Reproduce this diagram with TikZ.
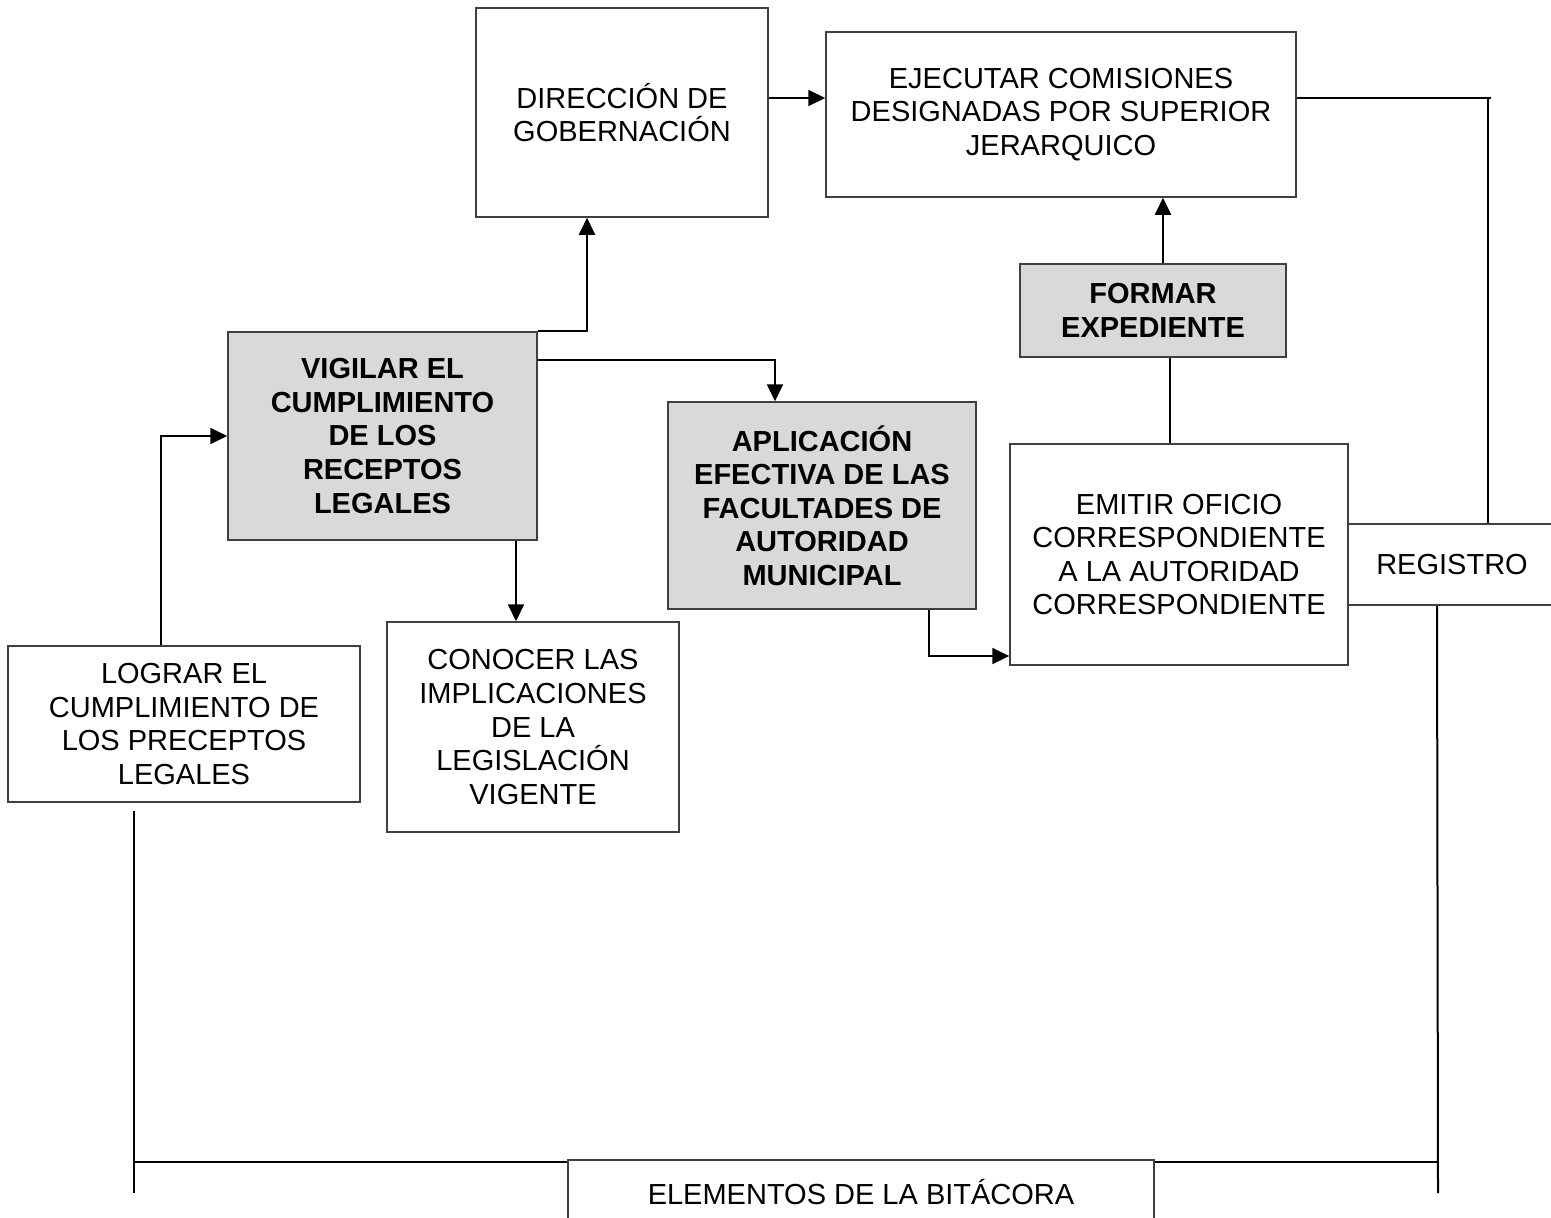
\documentclass[tikz,border=0pt]{standalone}
\usepackage{fontspec}
\setmainfont{Liberation Sans}
\usetikzlibrary{arrows.meta}
\newcommand{\boxfont}{\fontsize{14.5pt}{16.8pt}\selectfont}

\begin{document}
\begin{tikzpicture}[x=0.5pt,y=-0.5pt,
  box/.style={draw=black!75,line width=0.75pt,fill=white,align=center,
    font=\boxfont,inner sep=0pt},
  grisbox/.style={box,fill=black!15,font=\boxfont\bfseries},
  flecha/.style={line width=1pt,-{Triangle[length=8.5pt,width=8pt]}},
  linea/.style={line width=1pt}]
\useasboundingbox (0,0) rectangle (1551,1217);
%cajas de arriba
\node[box,minimum width=146pt,minimum height=104.5pt] (dir) at (622,112.5)
  {DIRECCIÓN DE\\GOBERNACIÓN};
\node[box,minimum width=235pt,minimum height=82.5pt] (ejec) at (1061,114.5)
  {EJECUTAR COMISIONES\\DESIGNADAS POR SUPERIOR\\JERARQUICO};
%cajas grises
\node[grisbox,minimum width=154.5pt,minimum height=104pt] (vig) at (382.5,436)
  {VIGILAR EL\\CUMPLIMIENTO\\DE LOS\\RECEPTOS\\LEGALES};
\node[grisbox,minimum width=133pt,minimum height=46.5pt] (form) at (1153,310.5)
  {FORMAR\\EXPEDIENTE};
\node[grisbox,minimum width=154pt,minimum height=103.5pt] (apl) at (822,505.5)
  {APLICACIÓN\\EFECTIVA DE LAS\\FACULTADES DE\\AUTORIDAD\\MUNICIPAL};
%cajas del medio
\node[box,minimum width=169pt,minimum height=110.5pt] (emit) at (1179,554.5)
  {EMITIR OFICIO\\CORRESPONDIENTE\\A LA AUTORIDAD\\CORRESPONDIENTE};
\node[box,minimum width=104pt,minimum height=40.5pt] (reg) at (1452,564.5)
  {REGISTRO};
\node[box,minimum width=176pt,minimum height=78pt] (log) at (184,724)
  {LOGRAR EL\\CUMPLIMIENTO DE\\LOS PRECEPTOS\\LEGALES};
\node[box,minimum width=146pt,minimum height=105pt] (con) at (533,727)
  {CONOCER LAS\\IMPLICACIONES\\DE LA\\LEGISLACIÓN\\VIGENTE};
%caja de abajo
\node[box,minimum width=293pt,minimum height=32pt] (elem) at (861,1192)
  {ELEMENTOS DE LA BITÁCORA};
\coordinate (izq) at (134,1193);
\coordinate (der) at (1438,1193);
% flechas
\draw[flecha] (dir.east |- 0,98) -- (ejec.west |- 0,98);
\draw[flecha] (vig.north east) -| (dir.south -| 587,0);
\draw[flecha] (vig.east |- 0,360) -| (apl.north -| 775,0);
\draw[flecha] (vig.south -| 516,0) -- (con.north -| 516,0);
\draw[flecha] (log.north -| 161,0) |- (vig.west);
\draw[flecha] (apl.south -| 929,0) |- (emit.west |- 0,656);
\draw[linea] (emit.north -| 1170,0) -- (form.south -| 1170,0);
\draw[flecha] (form.north -| 1163,0) -- (ejec.south -| 1163,0);
% lineas sin flecha
\draw[linea] (ejec.east |- 0,98) -- (1491,98);
\draw[linea] (1488,98) -- (reg.north -| 1488,0);
\draw[linea] (reg.south -| 1437,0) -- (der);
\draw[linea] (elem.east |- 0,1162) -- (der |- 0,1162);
\draw[linea] ([yshift=-4pt]log.south -| izq) -- (izq);
\draw[linea] (izq |- 0,1162) -- (elem.west |- 0,1162);
\end{tikzpicture}
\end{document}
